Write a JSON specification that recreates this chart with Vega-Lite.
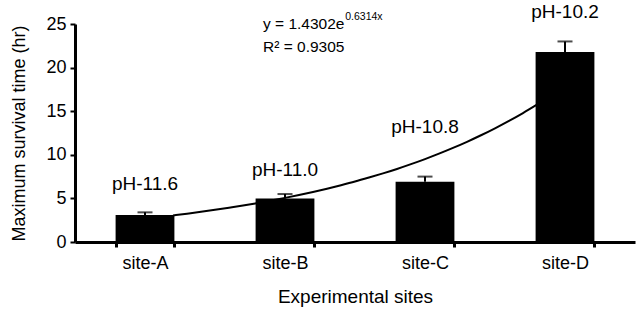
{
  "$schema": "https://vega.github.io/schema/vega-lite/v6.json",
  "width": 560,
  "height": 218,
  "autosize": {"type": "none"},
  "padding": {"left": 75, "top": 24, "right": 5, "bottom": 80},
  "background": "white",
  "config": {
    "view": {"stroke": null},
    "font": "Liberation Sans",
    "axis": {
      "domainColor": "black",
      "tickColor": "black",
      "labelColor": "black",
      "titleColor": "black",
      "titleFontWeight": "normal",
      "grid": false
    },
    "axisX": {
      "labelFontSize": 18,
      "labelPadding": 7,
      "labelAngle": 0,
      "titleFontSize": 19,
      "titlePadding": 15,
      "domainWidth": 3,
      "tickWidth": 3,
      "tickSize": 5,
      "tickBand": "extent"
    },
    "axisY": {
      "labelFontSize": 18,
      "labelPadding": 4,
      "titleFontSize": 18,
      "titlePadding": 17,
      "domainWidth": 3,
      "tickWidth": 2,
      "tickSize": 5,
      "values": [0, 5, 10, 15, 20, 25]
    }
  },
  "datasets": {
    "sites": [
      {"site": "site-A", "time": 3.1, "upper": 3.4, "ph": "pH-11.6", "ph_y": 6.0},
      {"site": "site-B", "time": 5.0, "upper": 5.5, "ph": "pH-11.0", "ph_y": 7.6},
      {"site": "site-C", "time": 6.9, "upper": 7.5, "ph": "pH-10.8", "ph_y": 12.5},
      {"site": "site-D", "time": 21.8, "upper": 23.0, "ph": "pH-10.2", "ph_y": 25.7}
    ],
    "trend": [
      {"x": 1.2, "y": 3.05}, {"x": 1.3, "y": 3.25}, {"x": 1.4, "y": 3.46},
      {"x": 1.5, "y": 3.69}, {"x": 1.6, "y": 3.93}, {"x": 1.7, "y": 4.18},
      {"x": 1.8, "y": 4.46}, {"x": 1.9, "y": 4.75}, {"x": 2.0, "y": 5.06},
      {"x": 2.1, "y": 5.39}, {"x": 2.2, "y": 5.74}, {"x": 2.3, "y": 6.11},
      {"x": 2.4, "y": 6.51}, {"x": 2.5, "y": 6.93}, {"x": 2.6, "y": 7.39},
      {"x": 2.7, "y": 7.87}, {"x": 2.8, "y": 8.38}, {"x": 2.9, "y": 8.93},
      {"x": 3.0, "y": 9.51}, {"x": 3.1, "y": 10.13}, {"x": 3.2, "y": 10.79},
      {"x": 3.3, "y": 11.49}, {"x": 3.4, "y": 12.24}, {"x": 3.5, "y": 13.04},
      {"x": 3.6, "y": 13.89}, {"x": 3.7, "y": 14.79}, {"x": 3.8, "y": 15.75}
    ],
    "equation": [
      {"x": 1.843, "y": 24.4, "text": "y = 1.4302e"},
      {"x": 1.843, "y": 21.8, "text": "R² = 0.9305"}
    ],
    "exponent": [
      {"x": 2.43, "y": 25.5, "text": "0.6314x"}
    ]
  },
  "layer": [
    {
      "layer": [
        {
          "data": {"name": "trend"},
          "mark": {"type": "line", "color": "black", "strokeWidth": 2, "interpolate": "monotone"},
          "encoding": {
            "x": {"field": "x", "type": "quantitative", "scale": {"domain": [0.5, 4.5], "nice": false, "zero": false}, "axis": null},
            "y": {"field": "y", "type": "quantitative", "title": "Maximum survival time (hr)"}
          }
        },
        {
          "data": {"name": "equation"},
          "mark": {"type": "text", "align": "left", "baseline": "alphabetic", "fontSize": 15.5, "color": "black"},
          "encoding": {
            "x": {"field": "x", "type": "quantitative", "axis": null},
            "y": {"field": "y", "type": "quantitative", "title": "Maximum survival time (hr)"},
            "text": {"field": "text"}
          }
        },
        {
          "data": {"name": "exponent"},
          "mark": {"type": "text", "align": "left", "baseline": "alphabetic", "fontSize": 10.5, "color": "black"},
          "encoding": {
            "x": {"field": "x", "type": "quantitative", "axis": null},
            "y": {"field": "y", "type": "quantitative", "title": "Maximum survival time (hr)"},
            "text": {"field": "text"}
          }
        }
      ]
    },
    {
      "data": {"name": "sites"},
      "encoding": {
        "x": {
          "field": "site",
          "type": "nominal",
          "title": "Experimental sites",
          "scale": {"paddingInner": 0.58, "paddingOuter": 0.29}
        }
      },
      "layer": [
        {
          "mark": {"type": "bar", "color": "black"},
          "encoding": {
            "y": {
              "field": "time",
              "type": "quantitative",
              "title": "Maximum survival time (hr)",
              "scale": {"domain": [0, 25], "nice": false}
            }
          }
        },
        {
          "mark": {"type": "rule", "color": "black", "strokeWidth": 2},
          "encoding": {
            "y": {"field": "time", "type": "quantitative", "title": "Maximum survival time (hr)"},
            "y2": {"field": "upper"}
          }
        },
        {
          "mark": {"type": "tick", "color": "black", "size": 15, "thickness": 2, "orient": "horizontal"},
          "encoding": {
            "y": {"field": "upper", "type": "quantitative", "title": "Maximum survival time (hr)"}
          }
        },
        {
          "mark": {"type": "text", "baseline": "alphabetic", "fontSize": 19, "color": "black"},
          "encoding": {
            "y": {"field": "ph_y", "type": "quantitative", "title": "Maximum survival time (hr)"},
            "text": {"field": "ph"}
          }
        }
      ]
    }
  ],
  "resolve": {"scale": {"x": "independent", "y": "shared"}}
}
